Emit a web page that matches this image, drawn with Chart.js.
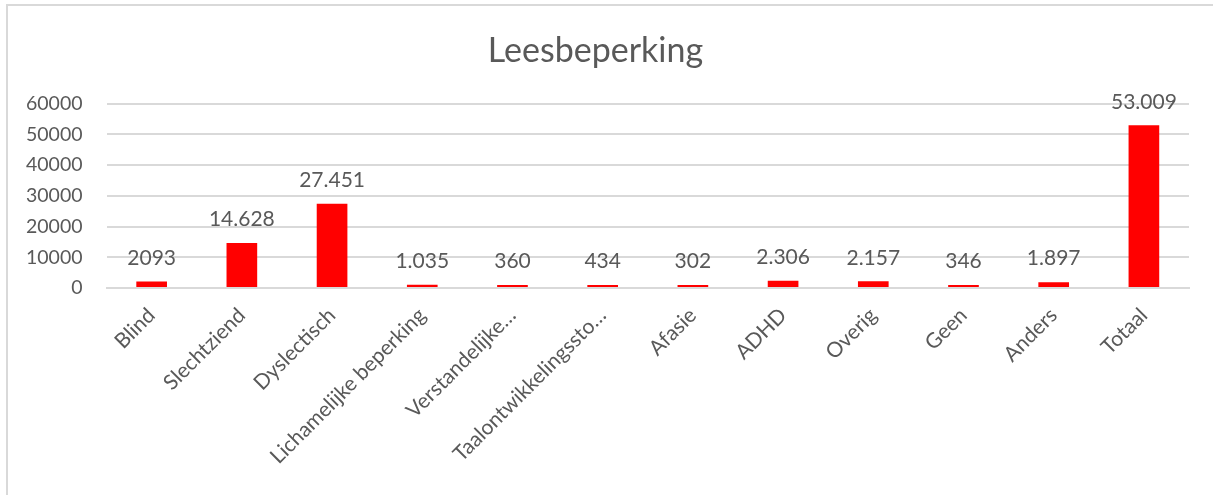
<!DOCTYPE html>
<html lang="nl">
<head>
<meta charset="UTF-8">
<title>Leesbeperking</title>
<script src="https://cdn.jsdelivr.net/npm/chart.js@4/dist/chart.umd.min.js"></script>
<style>
    html, body { margin: 0; padding: 0; background: #ffffff; overflow: hidden; }
    #frame {
        position: absolute;
        left: 6px;
        top: 4px;
        width: 1220px;
        height: 500px;
        border-left: 2px solid #d9d9d9;
        border-top: 2px solid #d9d9d9;
    }
    #wrap {
        position: absolute;
        left: 0;
        top: 0;
        width: 1213px;
        height: 495px;
    }
</style>
</head>
<body>
<div id="frame"></div>
<div id="wrap"><canvas id="chart_canvas"></canvas></div>

<script>
// chart data
var categories = [
    "Blind", "Slechtziend", "Dyslectisch", "Lichamelijke beperking",
    "Verstandelijke\u2026", "Taalontwikkelingssto\u2026", "Afasie", "ADHD",
    "Overig", "Geen", "Anders", "Totaal"
];
var values = [2093, 14628, 27451, 1035, 360, 434, 302, 2306, 2157, 346, 1897, 53009];
var valueLabels = [
    "2093", "14.628", "27.451", "1.035", "360", "434", "302",
    "2.306", "2.157", "346", "1.897", "53.009"
];
var yTicks = [0, 10000, 20000, 30000, 40000, 50000, 60000];

var textColor = "#595959";
var fontFamily = "Lato, 'Open Sans', sans-serif";

// draws the value labels above each bar
var valueLabelPlugin = {
    id: "valueLabels",
    afterDatasetsDraw: function(chart) {
        var ctx = chart.ctx;
        var meta = chart.getDatasetMeta(0);
        ctx.save();
        ctx.fillStyle = textColor;
        ctx.font = "21px " + fontFamily;
        ctx.textAlign = "center";
        ctx.textBaseline = "bottom";
        meta.data.forEach(function(bar, i) {
            ctx.fillText(valueLabels[i], bar.x, bar.y - 13);
        });
        ctx.restore();
    }
};

window._chart = new Chart(
    document.getElementById("chart_canvas"), {
        type: "bar",
        plugins: [valueLabelPlugin],
        data: {
            labels: categories,
            datasets: [
                {
                    label: "Leesbeperking",
                    data: values,
                    backgroundColor: "#ff0000",
                    borderWidth: 0,
                    minBarLength: 3,
                    categoryPercentage: 1.0,
                    barPercentage: 0.34
                }
            ]
        },
        options: {
            responsive: true,
            maintainAspectRatio: false,
            animation: false,
            layout: {
                padding: { left: 2, right: 24, top: 20, bottom: 19 }
            },
            plugins: {
                legend: { display: false },
                tooltip: { enabled: false },
                title: {
                    display: true,
                    text: "Leesbeperking",
                    color: textColor,
                    font: { family: fontFamily, size: 34, weight: "normal" },
                    padding: { top: 11, bottom: 32 }
                }
            },
            scales: {
                x: {
                    grid: { display: false },
                    border: { display: true, color: "#d9d9d9", width: 2 },
                    ticks: {
                        color: textColor,
                        font: { family: fontFamily, size: 21 },
                        minRotation: 45,
                        maxRotation: 45,
                        autoSkip: false,
                        padding: 7
                    }
                },
                y: {
                    min: 0,
                    max: 60000,
                    afterBuildTicks: function(axis) {
                        axis.ticks = yTicks.map(function(v) { return { value: v }; });
                    },
                    grid: { color: "#d9d9d9", lineWidth: 2, drawTicks: false },
                    border: { display: false },
                    ticks: {
                        color: textColor,
                        font: { family: fontFamily, size: 19.5 },
                        padding: 24,
                        callback: function(v) { return String(v); }
                    }
                }
            }
        }
    }
);
</script>
</body>
</html>
